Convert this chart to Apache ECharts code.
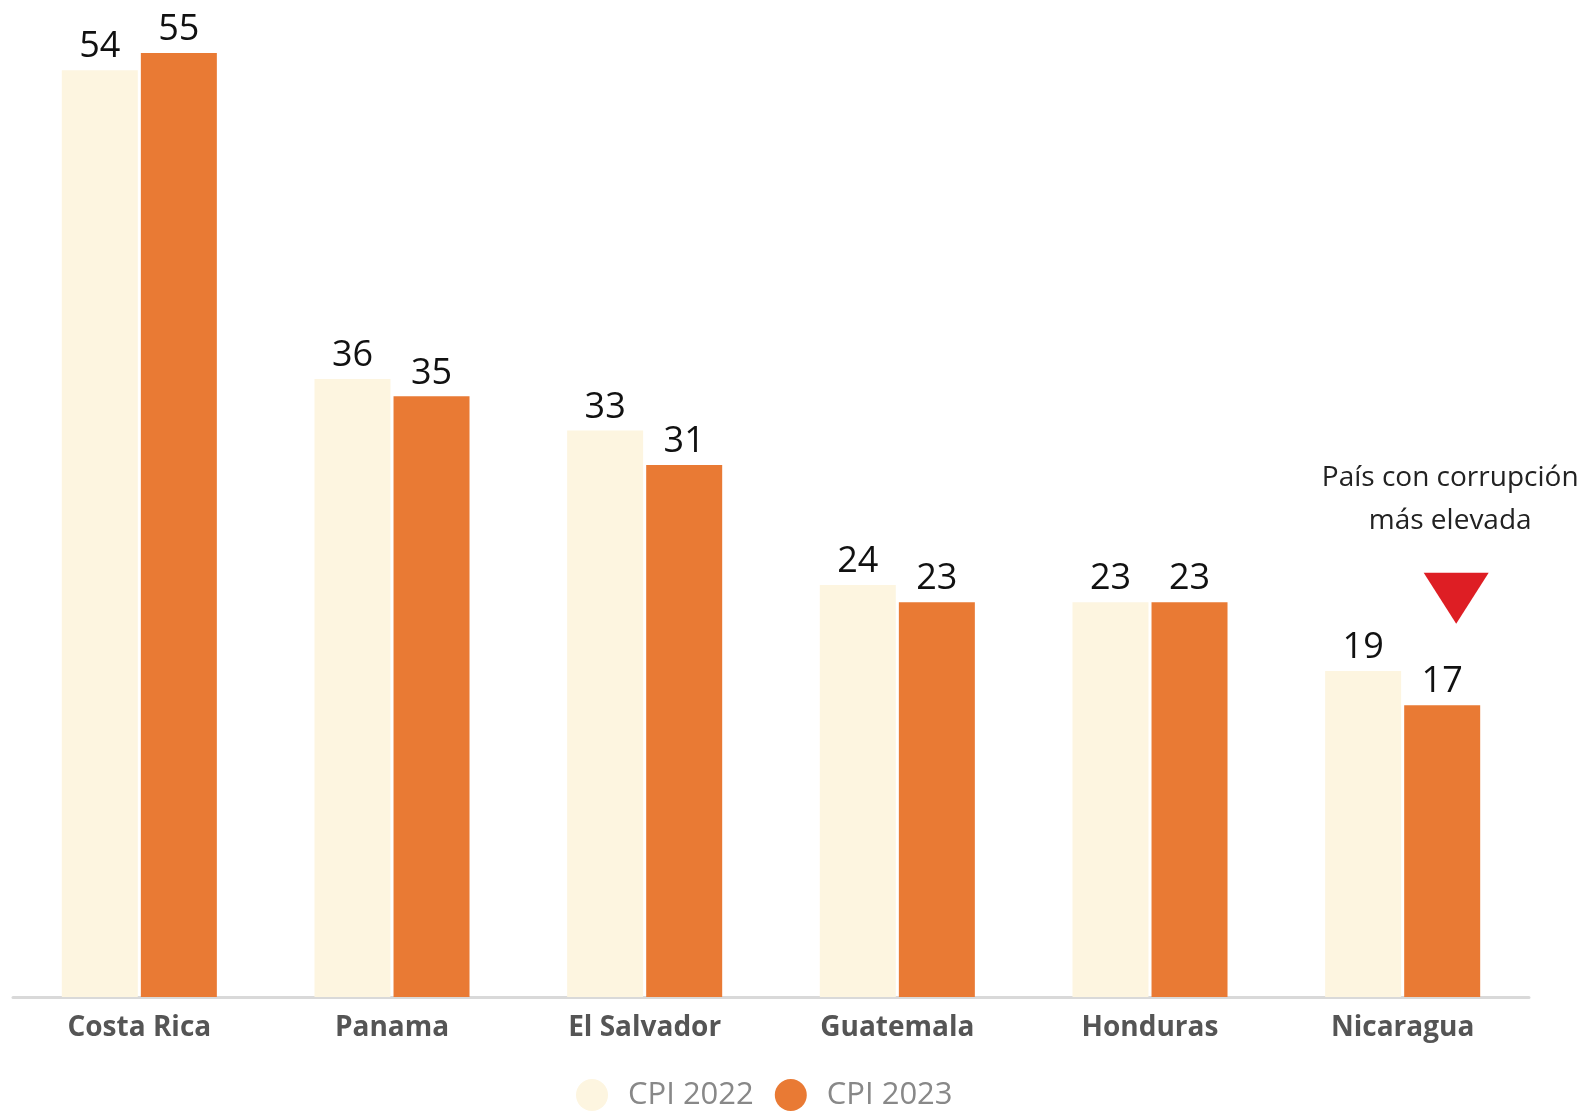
<!DOCTYPE html>
<html>
<head>
<meta charset="utf-8">
<script src="https://cdn.jsdelivr.net/npm/echarts@6/dist/echarts.min.js"></script>
<style>
html,body{margin:0;padding:0;background:#fff;}
#chart{width:1582px;height:1111px;}
</style>
</head>
<body>
<div id="chart"></div>
<script>
const countries = ['Costa Rica', 'Panama', 'El Salvador', 'Guatemala', 'Honduras', 'Nicaragua'];
const cpi2022 = [54, 36, 33, 24, 23, 19];
const cpi2023 = [55, 35, 31, 23, 23, 17];
const seriesNames = ['CPI 2022', 'CPI 2023'];
const annotationText = 'País con corrupción\nmás elevada';
const annotatedIndex = 5;

const FONT = '"Open Sans", "Noto Sans", sans-serif';
const chart = echarts.init(document.getElementById('chart'));

const valueLabel = {
  show: true,
  position: 'top',
  distance: 5,
  fontFamily: FONT,
  fontSize: 36,
  color: '#111111'
};

chart.setOption({
  animation: false,
  backgroundColor: '#ffffff',
  grid: { left: 13, right: 53, top: 53, bottom: 114, containLabel: false },
  legend: {
    bottom: 0,
    left: 576,
    padding: 0,
    itemWidth: 32,
    itemHeight: 32,
    itemGap: 21,
    icon: 'circle',
    textStyle: { fontFamily: FONT, fontSize: 31, color: '#888888', padding: [0, 0, 0, 15] },
    data: seriesNames
  },
  xAxis: {
    type: 'category',
    data: countries,
    axisLine: { lineStyle: { color: '#d9d9d9', width: 3 } },
    axisTick: { show: false },
    axisLabel: { fontFamily: FONT, fontSize: 28, fontWeight: 'bold', color: '#555555', margin: 17 }
  },
  yAxis: {
    type: 'value',
    min: 0,
    max: 55,
    show: false,
    splitLine: { show: false }
  },
  series: [
    {
      name: seriesNames[0],
      type: 'bar',
      data: cpi2022,
      barWidth: 76,
      barGap: '4%',
      itemStyle: { color: '#FDF5E0' },
      label: valueLabel
    },
    {
      name: seriesNames[1],
      type: 'bar',
      data: cpi2023,
      barWidth: 76,
      itemStyle: { color: '#E97A34' },
      label: valueLabel,
      markPoint: {
        symbol: 'path://M0,0 L65,0 L32.5,51 Z',
        symbolSize: [65, 51],
        symbolKeepAspect: false,
        symbolOffset: [14, -107],
        itemStyle: { color: '#DE1E24' },
        label: {
          show: true,
          position: 'top',
          distance: 30,
          offset: [-6, 0],
          formatter: annotationText,
          fontFamily: FONT,
          fontSize: 28,
          lineHeight: 43,
          color: '#222222',
          align: 'center'
        },
        data: [{ coord: [annotatedIndex, cpi2023[annotatedIndex]] }]
      }
    }
  ]
});
</script>
</body>
</html>
